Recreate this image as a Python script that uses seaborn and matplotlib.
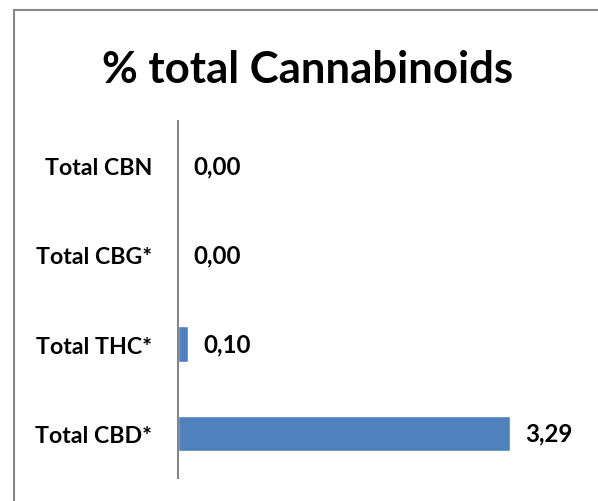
import matplotlib
matplotlib.use("Agg")
import matplotlib.pyplot as plt
import seaborn as sns
import pandas as pd
from matplotlib.lines import Line2D

categories = ["Total CBN", "Total CBG*", "Total THC*", "Total CBD*"]
values = [0.00, 0.00, 0.10, 3.29]
title = "% total Cannabinoids"

sns.set_style("white")
plt.rcParams['font.family'] = ['Lato', 'DejaVu Sans']

W, H = 598, 502
fig = plt.figure(figsize=(W / 100, H / 100), dpi=100)
ax = fig.add_axes([178 / W, (H - 479) / H, (531 - 178) / W, (479 - 122) / H])

df = pd.DataFrame({"cat": categories, "val": values})
sns.barplot(data=df, x="val", y="cat", order=categories, color="#4F81BD",
            saturation=1, width=0.4, ax=ax, orient="h")

ax.set_xlim(0, 3.5)
ax.set_xlabel("")
ax.set_ylabel("")
ax.set_xticks([])
for s in ["top", "right", "bottom"]:
    ax.spines[s].set_visible(False)
ax.spines["left"].set_color("#868686")
ax.spines["left"].set_linewidth(1.5)
ax.tick_params(axis="y", length=0, pad=18.5, labelsize=16.7, labelcolor="black")
for lab in ax.get_yticklabels():
    lab.set_fontweight("bold")

labels = [f"{v:.2f}".replace(".", ",") for v in values]
ax.bar_label(ax.containers[0], labels=labels, padding=11, fontsize=17.3,
             fontweight="bold", color="black")

fig.text(0.515, 1 - 83 / H, title, ha="center", va="baseline", fontsize=31.5,
         fontweight="bold", color="black")

fig.add_artist(Line2D([13.5 / W, 1], [1 - 10.5 / H, 1 - 10.5 / H],
                      transform=fig.transFigure, color="#888888", lw=1.5))
fig.add_artist(Line2D([13.5 / W, 13.5 / W], [0, 1 - 10.5 / H],
                      transform=fig.transFigure, color="#888888", lw=1.5))

fig.savefig("out.png", dpi=100)
